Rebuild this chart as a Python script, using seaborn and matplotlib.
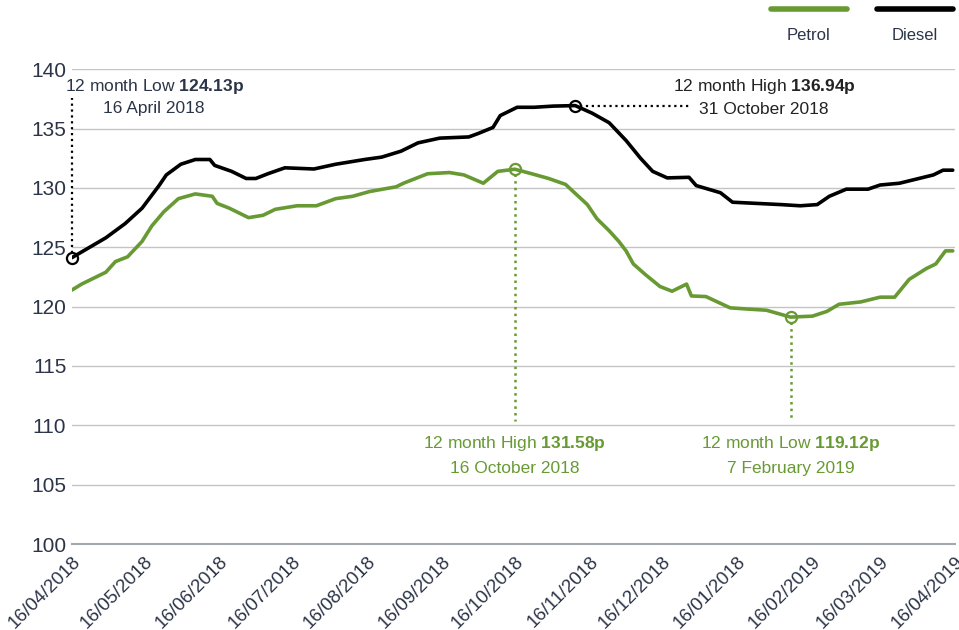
import pandas as pd
import numpy as np
import matplotlib.pyplot as plt
from matplotlib.lines import Line2D
import seaborn as sns

# diesel pump price (pence per litre)
diesel_dates = ['2018-04-16', '2018-04-30', '2018-05-08', '2018-05-15', '2018-05-22', '2018-05-25',
                '2018-05-31', '2018-06-06', '2018-06-12', '2018-06-14', '2018-06-21', '2018-06-27',
                '2018-07-01', '2018-07-06', '2018-07-13', '2018-07-25', '2018-08-03', '2018-08-15',
                '2018-08-22', '2018-08-30', '2018-09-06', '2018-09-15', '2018-09-27', '2018-10-01',
                '2018-10-07', '2018-10-10', '2018-10-17', '2018-10-24', '2018-11-01', '2018-11-10',
                '2018-11-17', '2018-11-24', '2018-12-01', '2018-12-07', '2018-12-12', '2018-12-18',
                '2018-12-27', '2018-12-30', '2019-01-09', '2019-01-14', '2019-01-24', '2019-02-03',
                '2019-02-11', '2019-02-18', '2019-02-23', '2019-03-02', '2019-03-11', '2019-03-16',
                '2019-03-24', '2019-03-30', '2019-04-07', '2019-04-11', '2019-04-15']
diesel_vals = [124.13, 125.8, 127.0, 128.3, 130.2, 131.1,
               132.0, 132.4, 132.4, 131.9, 131.4, 130.8,
               130.8, 131.2, 131.7, 131.6, 132.0, 132.4,
               132.6, 133.1, 133.8, 134.2, 134.3, 134.6,
               135.1, 136.1, 136.8, 136.8, 136.9, 136.94,
               136.3, 135.5, 134.0, 132.5, 131.4, 130.85,
               130.9, 130.2, 129.6, 128.8, 128.7, 128.6,
               128.5, 128.6, 129.3, 129.9, 129.9, 130.25,
               130.4, 130.7, 131.1, 131.5, 131.5]

# petrol pump price (pence per litre)
petrol_dates = ['2018-04-16', '2018-04-20', '2018-04-30', '2018-05-04', '2018-05-09', '2018-05-15',
                '2018-05-19', '2018-05-24', '2018-05-30', '2018-06-06', '2018-06-13', '2018-06-15',
                '2018-06-20', '2018-06-28', '2018-07-04', '2018-07-09', '2018-07-18', '2018-07-26',
                '2018-08-03', '2018-08-10', '2018-08-17', '2018-08-28', '2018-08-31', '2018-09-10',
                '2018-09-19', '2018-09-25', '2018-10-03', '2018-10-09', '2018-10-16', '2018-10-23',
                '2018-10-30', '2018-11-06', '2018-11-15', '2018-11-19', '2018-11-24', '2018-11-28',
                '2018-12-01', '2018-12-04', '2018-12-09', '2018-12-15', '2018-12-20', '2018-12-26',
                '2018-12-28', '2019-01-03', '2019-01-13', '2019-01-20', '2019-01-28', '2019-02-07',
                '2019-02-16', '2019-02-22', '2019-02-27', '2019-03-08', '2019-03-16', '2019-03-22',
                '2019-03-28', '2019-04-04', '2019-04-08', '2019-04-12', '2019-04-15']
petrol_vals = [121.4, 121.9, 122.9, 123.8, 124.2, 125.5,
               126.8, 128.0, 129.1, 129.5, 129.3, 128.7,
               128.3, 127.5, 127.7, 128.2, 128.5, 128.5,
               129.1, 129.3, 129.7, 130.1, 130.4, 131.2,
               131.3, 131.1, 130.4, 131.4, 131.58, 131.2,
               130.8, 130.3, 128.6, 127.4, 126.4, 125.5,
               124.7, 123.6, 122.7, 121.7, 121.3, 121.9,
               120.9, 120.85, 119.9, 119.8, 119.7, 119.12,
               119.2, 119.6, 120.2, 120.4, 120.8, 120.8,
               122.3, 123.2, 123.6, 124.7, 124.7]

# x ticks, labelled exactly as the original (incl. its 16/01/2018)
tick_dates = ['2018-04-16', '2018-05-16', '2018-06-16', '2018-07-16', '2018-08-16', '2018-09-16',
              '2018-10-16', '2018-11-16', '2018-12-16', '2019-01-16', '2019-02-16', '2019-03-16',
              '2019-04-16']
tick_labels = ['16/04/2018', '16/05/2018', '16/06/2018', '16/07/2018', '16/08/2018', '16/09/2018',
               '16/10/2018', '16/11/2018', '16/12/2018', '16/01/2018', '16/02/2019', '16/03/2019',
               '16/04/2019']

green = '#689a34'
navy = '#2c3448'

df = pd.concat([
    pd.DataFrame({'date': pd.to_datetime(petrol_dates), 'price': petrol_vals, 'fuel': 'Petrol'}),
    pd.DataFrame({'date': pd.to_datetime(diesel_dates), 'price': diesel_vals, 'fuel': 'Diesel'}),
])

sns.set_theme(style='white')
plt.rcParams['font.family'] = ['Liberation Sans', 'DejaVu Sans']
plt.rcParams['mathtext.fontset'] = 'custom'
plt.rcParams['mathtext.rm'] = 'Liberation Sans'
plt.rcParams['mathtext.bf'] = 'Liberation Sans:bold'

fig = plt.figure(figsize=(9.59, 6.3), dpi=100)
ax = fig.add_axes([0.075, 0.1365, 0.921, 0.7535])

sns.lineplot(data=df, x='date', y='price', hue='fuel', palette={'Petrol': green, 'Diesel': 'black'},
             linewidth=2.6, legend=False, ax=ax)

ax.set_ylim(100, 140)
ax.set_xlim(pd.Timestamp('2018-04-16'), pd.Timestamp('2019-04-16'))
ax.set_yticks(range(100, 141, 5))
ax.set_xticks(pd.to_datetime(tick_dates))
ax.set_xticklabels(tick_labels)
ax.set_xlabel('')
ax.set_ylabel('')
for y in range(105, 141, 5):
    ax.axhline(y, color='#c4c4c4', lw=1, zorder=0)
for s in ['top', 'right', 'left']:
    ax.spines[s].set_visible(False)
ax.spines['bottom'].set_color('#a3a7ae')
ax.spines['bottom'].set_linewidth(1.5)
ax.tick_params(axis='x', direction='inout', length=9, width=1.2, color='#a3a7ae',
               labelsize=13.5, labelcolor=navy, pad=2)
ax.tick_params(axis='y', length=0, labelsize=15, labelcolor=navy, pad=4)
plt.setp(ax.get_xticklabels(), rotation=45, ha='right', va='top', rotation_mode='anchor')

# annotations
def mark(date, val, color):
    ax.plot(pd.Timestamp(date), val, 'o', ms=8, mfc='none', mec=color, mew=1.6, zorder=5, clip_on=False)

d_lo = pd.Timestamp(diesel_dates[0])
mark(d_lo, diesel_vals[0], 'black')
ax.plot([d_lo, d_lo], [diesel_vals[0] + 0.4, 137.6], ':', color='black', lw=1.6, clip_on=False)
ax.text(pd.Timestamp('2018-05-20'), 138.56, r'12 month Low $\mathbf{124.13p}$', ha='center', va='center',
        fontsize=12.5, color=navy)
ax.text(pd.Timestamp('2018-05-20'), 136.7, '16 April 2018', ha='center', va='center', fontsize=12.5, color=navy)

d_hi = pd.Timestamp(diesel_dates[int(np.argmax(diesel_vals))])
mark(d_hi, max(diesel_vals), 'black')
ax.plot([d_hi + pd.Timedelta(days=2), pd.Timestamp('2018-12-28')], [136.9, 136.9], ':', color='black', lw=1.6)
ax.text(pd.Timestamp('2019-01-27'), 138.56, r'12 month High $\mathbf{136.94p}$', ha='center', va='center',
        fontsize=12.5, color='#222222')
ax.text(pd.Timestamp('2019-01-27'), 136.6, '31 October 2018', ha='center', va='center', fontsize=12.5,
        color='#222222')

p_hi = pd.Timestamp(petrol_dates[int(np.argmax(petrol_vals))])
mark(p_hi, max(petrol_vals), green)
ax.plot([p_hi, p_hi], [max(petrol_vals) - 0.4, 110.4], ':', color=green, lw=1.8)
ax.text(p_hi, 108.5, r'12 month High $\mathbf{131.58p}$', ha='center', va='center', fontsize=12.5, color=green)
ax.text(p_hi, 106.4, '16 October 2018', ha='center', va='center', fontsize=12.5, color=green)

p_lo = pd.Timestamp(petrol_dates[int(np.argmin(petrol_vals))])
mark(p_lo, min(petrol_vals), green)
ax.plot([p_lo, p_lo], [min(petrol_vals) - 0.4, 110.4], ':', color=green, lw=1.8)
ax.text(p_lo, 108.5, r'12 month Low $\mathbf{119.12p}$', ha='center', va='center', fontsize=12.5, color=green)
ax.text(p_lo, 106.4, '7 February 2019', ha='center', va='center', fontsize=12.5, color=green)

# legend drawn as in the original: swatch above label
for x0, x1, col, lab in [(771, 847, green, 'Petrol'), (877, 953, 'black', 'Diesel')]:
    fig.add_artist(Line2D([x0 / 959, x1 / 959], [1 - 9 / 630, 1 - 9 / 630], color=col, lw=4))
    fig.text((x0 + x1) / 2 / 959, 1 - 35 / 630, lab, ha='center', va='center', fontsize=12, color=navy)

plt.savefig('out.png', dpi=100)
